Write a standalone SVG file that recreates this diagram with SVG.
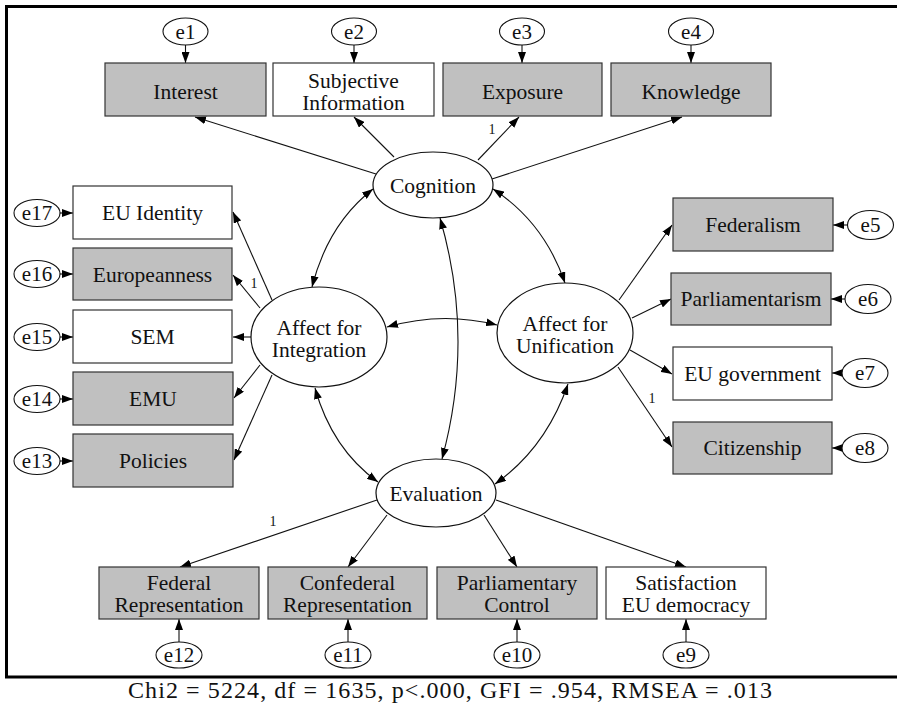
<svg xmlns="http://www.w3.org/2000/svg" width="897" height="707" viewBox="0 0 897 707">
  <style>
    .t { fill: #111; text-anchor: middle; }
    .lbl { font-size: 21.5px; }
    .err { font-size: 21px; }
    .one { font-size: 14px; }
    .cap { font-size: 24px; }
    .box { stroke: #333; stroke-width: 1.2; }
    .g { fill: #c0c0c0; }
    .w { fill: #fff; }
    .lat { fill: #fff; stroke: #111; stroke-width: 1.2; }
    .e { fill: #fff; stroke: #111; stroke-width: 1.1; }
    .path { fill: none; stroke: #111; stroke-width: 1.1; marker-end: url(#arrow); }
    .cov { fill: none; stroke: #111; stroke-width: 1.1; marker-end: url(#arrow); marker-start: url(#arrow); }
    .frame { fill: none; stroke: #000; stroke-width: 3; }
  </style>
  <defs>
    <marker id="arrow" viewBox="0 0 11 8" refX="11" refY="4" markerWidth="11" markerHeight="8" markerUnits="userSpaceOnUse" orient="auto-start-reverse">
      <path d="M0,0 L11,4 L0,8 z" fill="#000"/>
    </marker>
  </defs>

  <rect width="897" height="707" fill="#fff"/>
  <!-- frame, open on the right -->
  <path class="frame" d="M900,6.5 H6.5 V677 H900"/>

  <!-- connectors -->
  <g id="connectors">
    <!-- Cognition loadings -->
    <line class="path" x1="376" y1="174" x2="195" y2="117"/>
    <line class="path" x1="394" y1="157" x2="354" y2="117"/>
    <line class="path" x1="478" y1="160" x2="519" y2="117"/>
    <line class="path" x1="492" y1="179" x2="682" y2="117"/>
    <!-- Affect for Integration loadings -->
    <line class="path" x1="272" y1="300" x2="233" y2="212"/>
    <line class="path" x1="260" y1="308" x2="233" y2="275"/>
    <line class="path" x1="251" y1="337" x2="233" y2="337"/>
    <line class="path" x1="260" y1="365" x2="234" y2="398"/>
    <line class="path" x1="272" y1="375" x2="234" y2="460"/>
    <!-- Affect for Unification loadings -->
    <line class="path" x1="619" y1="300" x2="672" y2="225"/>
    <line class="path" x1="632" y1="318" x2="671" y2="299"/>
    <line class="path" x1="630" y1="350" x2="672" y2="374"/>
    <line class="path" x1="618" y1="367" x2="672" y2="447"/>
    <!-- Evaluation loadings -->
    <line class="path" x1="377" y1="500" x2="180" y2="567"/>
    <line class="path" x1="387" y1="515" x2="348" y2="567"/>
    <line class="path" x1="484" y1="515" x2="517" y2="567"/>
    <line class="path" x1="496" y1="500" x2="686" y2="567"/>
    <!-- error terms -->
    <line class="path" x1="185.5" y1="45" x2="185.5" y2="63"/>
    <line class="path" x1="354" y1="45" x2="354" y2="63"/>
    <line class="path" x1="522" y1="45" x2="522" y2="63"/>
    <line class="path" x1="691" y1="45" x2="691" y2="63"/>
    <line class="path" x1="847" y1="225" x2="833" y2="225"/>
    <line class="path" x1="845" y1="299" x2="831" y2="299"/>
    <line class="path" x1="842" y1="373" x2="832" y2="373"/>
    <line class="path" x1="842" y1="448" x2="832" y2="448"/>
    <line class="path" x1="60" y1="213" x2="73" y2="213"/>
    <line class="path" x1="60" y1="274" x2="73" y2="274"/>
    <line class="path" x1="60" y1="337" x2="73" y2="337"/>
    <line class="path" x1="60" y1="399" x2="73" y2="399"/>
    <line class="path" x1="60" y1="461" x2="73" y2="461"/>
    <line class="path" x1="179" y1="642" x2="179" y2="619"/>
    <line class="path" x1="348" y1="642" x2="348" y2="619"/>
    <line class="path" x1="517" y1="642" x2="517" y2="619"/>
    <line class="path" x1="686" y1="642" x2="686" y2="619"/>
    <!-- covariances -->
    <path class="cov" d="M373,189 Q328,224 312,287"/>
    <path class="cov" d="M493,189 Q544,222 565,283"/>
    <path class="cov" d="M440,218 Q475,338 442,459"/>
    <path class="cov" d="M387,327 Q442,311 497,325"/>
    <path class="cov" d="M315,388 Q332,449 378,482"/>
    <path class="cov" d="M568,384 Q546,448 495,484"/>
  </g>

  <g font-family="Liberation Serif, Times New Roman, DejaVu Serif, serif">
  <!-- fixed loadings -->
  <g id="fixed-loadings">
    <text class="t one" x="492" y="134">1</text>
    <text class="t one" x="254" y="288">1</text>
    <text class="t one" x="652" y="403">1</text>
    <text class="t one" x="273" y="526">1</text>
  </g>

  <!-- latent variables -->
  <g id="cognition"><ellipse class="lat" cx="433" cy="185" rx="60" ry="33"/><text class="t lbl" x="433" y="193">Cognition</text></g>
  <g id="affect-integration"><ellipse class="lat" cx="319" cy="337" rx="68" ry="50"/><text class="t lbl" x="319" y="335">Affect for</text><text class="t lbl" x="319" y="357">Integration</text></g>
  <g id="affect-unification"><ellipse class="lat" cx="565" cy="333" rx="68" ry="50"/><text class="t lbl" x="565" y="331">Affect for</text><text class="t lbl" x="565" y="353">Unification</text></g>
  <g id="evaluation"><ellipse class="lat" cx="436" cy="493" rx="60" ry="34"/><text class="t lbl" x="436" y="501">Evaluation</text></g>

  <!-- observed: top -->
  <g id="interest"><rect class="box g" x="105" y="63" width="161" height="53"/><text class="t lbl" x="185.5" y="99">Interest</text></g>
  <g id="subjective-information"><rect class="box w" x="273" y="63" width="161" height="53"/><text class="t lbl" x="353.5" y="88">Subjective</text><text class="t lbl" x="353.5" y="110">Information</text></g>
  <g id="exposure"><rect class="box g" x="443" y="63" width="159" height="53"/><text class="t lbl" x="522.5" y="99">Exposure</text></g>
  <g id="knowledge"><rect class="box g" x="611" y="63" width="160" height="53"/><text class="t lbl" x="691" y="99">Knowledge</text></g>

  <!-- observed: left -->
  <g id="eu-identity"><rect class="box w" x="73" y="186" width="159" height="53"/><text class="t lbl" x="152.5" y="220">EU Identity</text></g>
  <g id="europeanness"><rect class="box g" x="73" y="248" width="159" height="52"/><text class="t lbl" x="152.5" y="282">Europeanness</text></g>
  <g id="sem"><rect class="box w" x="73" y="310" width="159" height="53"/><text class="t lbl" x="152.5" y="344">SEM</text></g>
  <g id="emu"><rect class="box g" x="73" y="372" width="160" height="53"/><text class="t lbl" x="153" y="406">EMU</text></g>
  <g id="policies"><rect class="box g" x="73" y="434" width="160" height="53"/><text class="t lbl" x="153" y="468">Policies</text></g>

  <!-- observed: right -->
  <g id="federalism"><rect class="box g" x="673" y="198" width="160" height="53"/><text class="t lbl" x="753" y="232">Federalism</text></g>
  <g id="parliamentarism"><rect class="box g" x="671" y="273" width="160" height="52"/><text class="t lbl" x="751" y="306">Parliamentarism</text></g>
  <g id="eu-government"><rect class="box w" x="673" y="347" width="159" height="53"/><text class="t lbl" x="752.5" y="381">EU government</text></g>
  <g id="citizenship"><rect class="box g" x="673" y="422" width="159" height="52"/><text class="t lbl" x="752.5" y="455">Citizenship</text></g>

  <!-- observed: bottom -->
  <g id="federal-representation"><rect class="box g" x="99" y="567" width="160" height="52"/><text class="t lbl" x="179" y="590">Federal</text><text class="t lbl" x="179" y="612">Representation</text></g>
  <g id="confederal-representation"><rect class="box g" x="268" y="567" width="159" height="52"/><text class="t lbl" x="347.5" y="590">Confederal</text><text class="t lbl" x="347.5" y="612">Representation</text></g>
  <g id="parliamentary-control"><rect class="box g" x="437" y="567" width="160" height="52"/><text class="t lbl" x="517" y="590">Parliamentary</text><text class="t lbl" x="517" y="612">Control</text></g>
  <g id="satisfaction-eu-democracy"><rect class="box w" x="606" y="567" width="160" height="52"/><text class="t lbl" x="686" y="590">Satisfaction</text><text class="t lbl" x="686" y="612">EU democracy</text></g>

  <!-- error terms -->
  <g id="e1"><ellipse class="e" cx="185.5" cy="31.5" rx="22.5" ry="13.5"/><text class="t err" x="185.5" y="39">e1</text></g>
  <g id="e2"><ellipse class="e" cx="354" cy="31.5" rx="22.5" ry="13.5"/><text class="t err" x="354" y="39">e2</text></g>
  <g id="e3"><ellipse class="e" cx="522" cy="31.5" rx="22.5" ry="13.5"/><text class="t err" x="522" y="39">e3</text></g>
  <g id="e4"><ellipse class="e" cx="691" cy="31.5" rx="22.5" ry="13.5"/><text class="t err" x="691" y="39">e4</text></g>
  <g id="e5"><ellipse class="e" cx="870.5" cy="225" rx="23" ry="14.5"/><text class="t err" x="870.5" y="232">e5</text></g>
  <g id="e6"><ellipse class="e" cx="868" cy="299" rx="23" ry="14.5"/><text class="t err" x="868" y="306">e6</text></g>
  <g id="e7"><ellipse class="e" cx="865" cy="373" rx="23" ry="14.5"/><text class="t err" x="865" y="380">e7</text></g>
  <g id="e8"><ellipse class="e" cx="865" cy="448" rx="23" ry="14.5"/><text class="t err" x="865" y="455">e8</text></g>
  <g id="e9"><ellipse class="e" cx="686" cy="655" rx="23" ry="13"/><text class="t err" x="686" y="662">e9</text></g>
  <g id="e10"><ellipse class="e" cx="517" cy="655" rx="23" ry="13"/><text class="t err" x="517" y="662">e10</text></g>
  <g id="e11"><ellipse class="e" cx="348" cy="655" rx="23" ry="13"/><text class="t err" x="348" y="662">e11</text></g>
  <g id="e12"><ellipse class="e" cx="179" cy="655" rx="23" ry="13"/><text class="t err" x="179" y="662">e12</text></g>
  <g id="e13"><ellipse class="e" cx="37" cy="461" rx="23" ry="13.5"/><text class="t err" x="37" y="468">e13</text></g>
  <g id="e14"><ellipse class="e" cx="37" cy="399" rx="23" ry="13.5"/><text class="t err" x="37" y="406">e14</text></g>
  <g id="e15"><ellipse class="e" cx="37" cy="337" rx="23" ry="13.5"/><text class="t err" x="37" y="344">e15</text></g>
  <g id="e16"><ellipse class="e" cx="37" cy="274" rx="23" ry="13.5"/><text class="t err" x="37" y="281">e16</text></g>
  <g id="e17"><ellipse class="e" cx="37" cy="213" rx="23" ry="13.5"/><text class="t err" x="37" y="220">e17</text></g>

  <!-- fit statistics -->
  <text class="t cap" x="450" y="698" textLength="644" lengthAdjust="spacing">Chi2 = 5224, df = 1635, p&lt;.000, GFI = .954, RMSEA = .013</text>
  </g>
</svg>
